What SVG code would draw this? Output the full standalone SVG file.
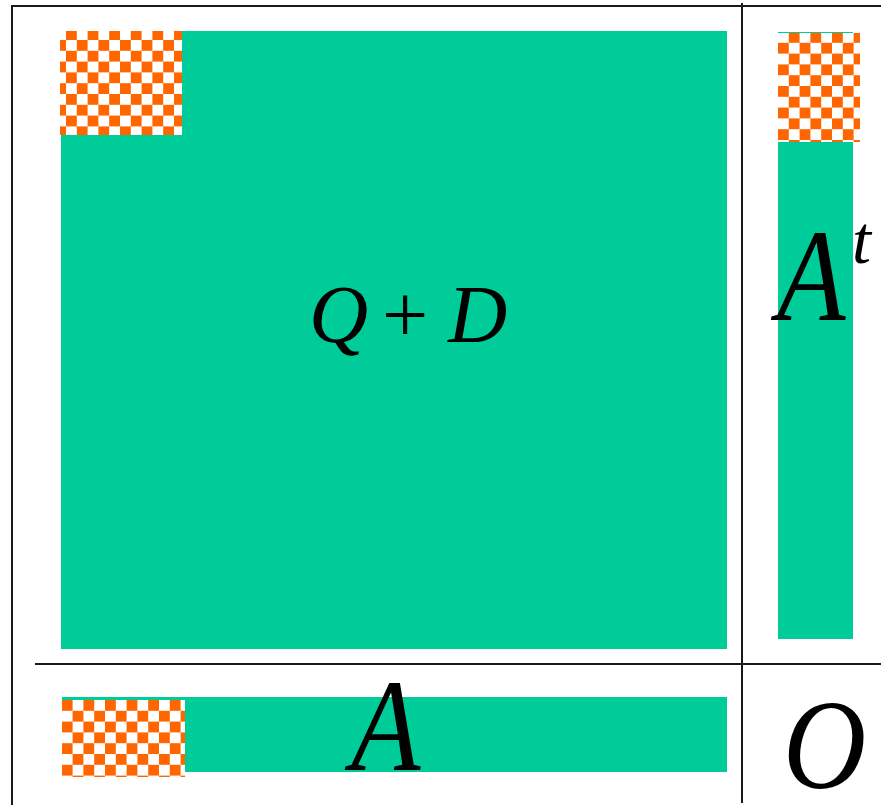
<svg xmlns="http://www.w3.org/2000/svg" width="881" height="805" viewBox="0 0 881 805">
<style>
.g{fill:#00CC99}
.ln{stroke:#1a1a1a;stroke-width:2;fill:none}
.m{font-family:"Liberation Serif","Times New Roman",serif;font-style:italic;fill:#000}
.u{font-family:"Liberation Serif","Times New Roman",serif;fill:#000}
</style>
<defs>
<pattern id="chk1" patternUnits="userSpaceOnUse" x="55.2" y="29.2" width="21.6" height="21.6">
<rect width="21.6" height="21.6" fill="#fff"/>
<rect x="10.8" y="0" width="10.8" height="10.8" fill="#FF6600"/>
<rect x="0" y="10.8" width="10.8" height="10.8" fill="#FF6600"/>
</pattern>
<pattern id="chk2" patternUnits="userSpaceOnUse" x="778" y="32" width="21.6" height="21.6">
<rect width="21.6" height="21.6" fill="#fff"/>
<rect x="10.8" y="0" width="10.8" height="10.8" fill="#FF6600"/>
<rect x="0" y="10.8" width="10.8" height="10.8" fill="#FF6600"/>
</pattern>
<pattern id="chk3" patternUnits="userSpaceOnUse" x="51" y="700" width="21.6" height="21.6">
<rect width="21.6" height="21.6" fill="#fff"/>
<rect x="10.8" y="0" width="10.8" height="10.8" fill="#FF6600"/>
<rect x="0" y="10.8" width="10.8" height="10.8" fill="#FF6600"/>
</pattern>
</defs>
<rect width="881" height="805" fill="#fff"/>
<g id="frame">
<path class="ln" d="M12,805 V6 H881"/>
<path class="ln" d="M742,3 V803"/>
<path class="ln" d="M35,664 H881"/>
</g>
<g id="QD">
<rect class="g" x="61" y="31" width="666" height="618"/>
<rect x="60" y="31" width="122" height="104" fill="url(#chk1)"/>
<text class="m" x="309" y="342" font-size="82">Q</text>
<text class="u" x="382" y="342" font-size="82">+</text>
<text class="m" x="448" y="342" font-size="82">D</text>
</g>
<g id="At">
<rect class="g" x="778" y="32" width="75" height="607"/>
<rect x="778" y="33" width="82" height="109" fill="url(#chk2)"/>
<text class="m" transform="translate(777,320) scale(0.85,1)" font-size="132">A</text>
<text class="m" x="852" y="263" font-size="68">t</text>
</g>
<g id="A">
<rect class="g" x="62" y="697" width="665" height="75"/>
<rect x="62" y="700" width="123" height="77" fill="url(#chk3)"/>
<text class="m" transform="translate(351,770) scale(0.86,1)" font-size="132">A</text>
</g>
<g id="O">
<text class="m" transform="translate(783,788) scale(0.9,1)" font-size="128">O</text>
</g>
</svg>
